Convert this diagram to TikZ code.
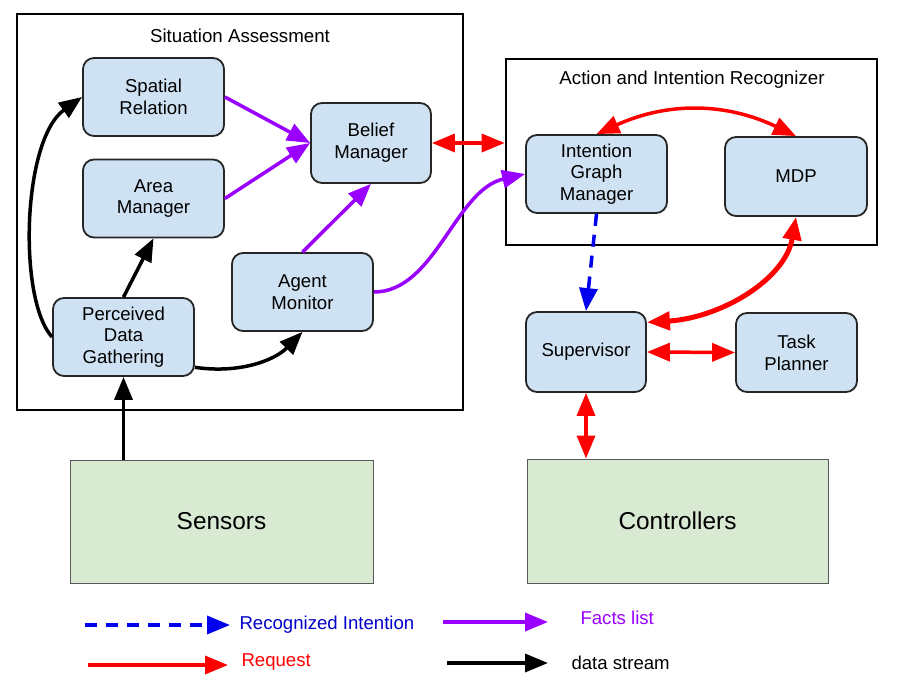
\documentclass[tikz,border=0pt]{standalone}
\usepackage{fontspec}
\setmainfont{Liberation Sans}
\usetikzlibrary{arrows.meta}
\definecolor{boxblue}{HTML}{CFE2F3}
\definecolor{boxgreen}{HTML}{D9EAD3}
\definecolor{factpurple}{HTML}{9900FF}
\definecolor{intentblue}{HTML}{0000EE}
\definecolor{reqred}{HTML}{FF0000}

\begin{document}
\begin{tikzpicture}[x=1pt,y=-1pt,>={Triangle[length=23pt,width=18pt]},
        box/.style={draw=black!85,line width=1.8pt,rounded corners=11pt,fill=boxblue,
            minimum width=141pt,minimum height=78pt,align=center,inner sep=0pt,
            font=\fontsize{18.6}{21.7}\selectfont},
        hwbox/.style={draw=black!65,line width=1pt,fill=boxgreen,inner sep=0pt,
            font=\fontsize{24.4}{28}\selectfont},
        frame/.style={draw,line width=2.6pt,inner sep=0pt},
        frametitle/.style={font=\fontsize{18.7}{22}\selectfont},
        legendtext/.style={font=\fontsize{18.6}{21}\selectfont,anchor=west},
        dataarrow/.style={->,line width=3.5pt,black},
        factarrow/.style={->,line width=3.5pt,factpurple},
        reqarrow/.style={<->,line width=3.5pt,reqred},
        intentarrow/.style={->,line width=3.5pt,intentblue,dash pattern=on 12pt off 9pt}]
        \useasboundingbox (0,0) rectangle (901,687);

        \node[frame,minimum width=446pt,minimum height=396pt] (sa) at (240,212) {};
        \node[frametitle] (satitle) at (240,36) {Situation Assessment};
        \node[frame,minimum width=371pt,minimum height=186pt] (air) at (691.5,152) {};
        \node[frametitle] (airtitle) at (692,80) {Action and Intention Recognizer};

        \node[box] (spatial) at (153.5,97) {Spatial\\Relation};
        \node[box] (area) at (153.5,198.5) {Area\\Manager};
        \node[box,minimum width=120pt,minimum height=80pt] (belief) at (371,143) {Belief\\Manager};
        \node[box] (agent) at (302.5,292) {Agent\\Monitor};
        \node[box] (pdg) at (123.5,337) {Perceived\\Data\\Gathering};
        \node[box] (igm) at (596.5,174) {Intention\\Graph\\Manager};
        \node[box,minimum width=142pt,minimum height=79pt] (mdp) at (796,176.5) {MDP};
        \node[box,minimum width=120pt,minimum height=80pt] (sup) at (586,352) {Supervisor};
        \node[box,minimum width=121pt,minimum height=79pt] (task) at (796.5,352.5) {Task\\Planner};
        \node[hwbox,minimum width=303pt,minimum height=123pt] (sensors) at (221.5,521.5) {Sensors};
        \node[hwbox,minimum width=301pt,minimum height=124pt] (controllers) at (677.5,521) {Controllers};

        \draw[dataarrow] (pdg.south |- sensors.north) -- (pdg.south);
        \draw[dataarrow] (pdg.north) -- (area.south);
        \draw[dataarrow] (pdg.west) .. controls (18,300) and (22,140) .. (spatial.west);
        \draw[dataarrow] (pdg.337) .. controls (240,374) and (275,360) .. (agent.south);

        \draw[factarrow] (spatial.east) -- (belief.west);
        \draw[factarrow] (area.east) -- (belief.west);
        \draw[factarrow] (agent.north) -- (belief.south);
        \draw[factarrow] (agent.east) .. controls (435,292) and (455,190) .. (igm.west);

        \draw[reqarrow] (belief.east) -- (belief.east -| air.west);
        \draw[reqarrow] (igm.north) to[bend left=25] (mdp.north);
        \draw[reqarrow,line width=5pt] (mdp.south) .. controls (785,280) and (720,318) .. (sup.26);
        \draw[reqarrow] (sup.east) -- (task.west);
        \draw[reqarrow] (sup.south) -- (sup.south |- controllers.north);

        \draw[intentarrow] (igm.south) -- (sup.north);

        \coordinate (intentfrom) at (85,625);
        \coordinate (intentto) at (230,625);
        \coordinate (factfrom) at (443,622);
        \coordinate (factto) at (548,622);
        \coordinate (reqfrom) at (88,665);
        \coordinate (reqto) at (228,665);
        \coordinate (datafrom) at (447,663);
        \coordinate (datato) at (548,663);
        \draw[intentarrow] (intentfrom) -- (intentto);
        \draw[factarrow] (factfrom) -- (factto);
        \draw[reqarrow,-{Triangle[length=23pt,width=18pt]}] (reqfrom) -- (reqto);
        \draw[dataarrow] (datafrom) -- (datato);
        \node[legendtext,text=intentblue!85!black] (intentlabel) at (236,625) {Recognized Intention};
        \node[legendtext,text=factpurple] (factlabel) at (577,618) {Facts list};
        \node[legendtext,text=reqred] (reqlabel) at (238,662) {Request};
        \node[legendtext] (datalabel) at (568,663) {data stream};
\end{tikzpicture}
\end{document}
